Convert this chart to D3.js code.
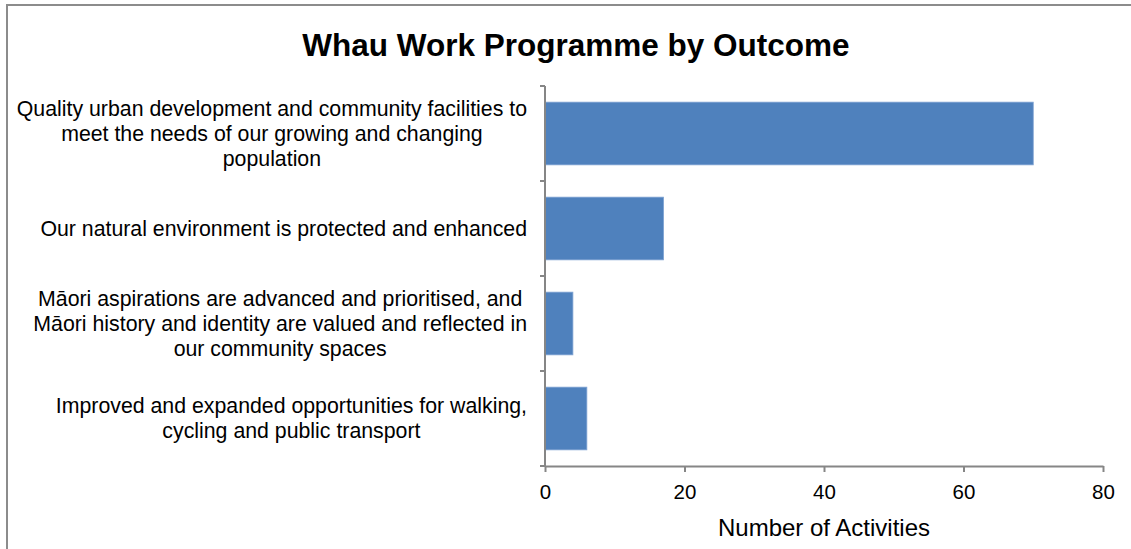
<!DOCTYPE html>
<html><head><meta charset="utf-8">
<script src="https://cdn.jsdelivr.net/npm/d3@7"></script>
<style>
html,body{margin:0;padding:0;background:#fff;}
svg{display:block;font-family:"Liberation Sans",Arial,sans-serif;}
</style></head>
<body>
<svg id="chart" width="1131" height="549"></svg>
<script>
const title = "Whau Work Programme by Outcome";
const categories = [
  "Quality urban development and community facilities to\nmeet the needs of our growing and changing\npopulation",
  "Our natural environment is protected and enhanced",
  "Māori aspirations are advanced and prioritised, and\nMāori history and identity are valued and reflected in\nour community spaces",
  "Improved and expanded opportunities for walking,\ncycling and public transport"
];
const values = [70, 17, 4, 6];
const xTicks = [0, 20, 40, 60, 80];
const xTitle = "Number of Activities";

const svg = d3.select("#chart");
const W = 1131, H = 549;
const m = {left: 545, right: 1103, top: 86, bottom: 466};

// chart border
svg.append("path")
  .attr("d", `M7,${H+2} V5 H${W+2}`)
  .attr("fill", "none").attr("stroke", "#8c8c8c").attr("stroke-width", 2);

svg.append("text")
  .attr("x", 576).attr("y", 56)
  .attr("text-anchor", "middle")
  .attr("font-size", 31.5).attr("font-weight", "bold").attr("fill", "#000")
  .text(title);

const x = d3.scaleLinear().domain([0, 80]).range([m.left, m.right]);
const y = d3.scaleBand().domain(d3.range(categories.length)).range([m.top, m.bottom]).paddingInner(0.34).paddingOuter(0.17);

svg.append("g").selectAll("rect").data(values).join("rect")
  .attr("x", x(0)).attr("y", (d,i) => y(i))
  .attr("width", d => x(d) - x(0)).attr("height", y.bandwidth())
  .attr("fill", "#4f81bd").attr("stroke", "#7fa3d3").attr("stroke-width", 0.8);

// y axis line and ticks
const yAxisG = svg.append("g");
yAxisG.append("line").attr("x1", m.left).attr("x2", m.left).attr("y1", m.top).attr("y2", m.bottom)
  .attr("stroke", "#868686").attr("stroke-width", 2);
const bandStep = (m.bottom - m.top) / categories.length;
yAxisG.selectAll("line.t").data(d3.range(categories.length + 1)).join("line")
  .attr("class", "t")
  .attr("x1", m.left - 5).attr("x2", m.left)
  .attr("y1", i => m.top + i * bandStep).attr("y2", i => m.top + i * bandStep)
  .attr("stroke", "#868686").attr("stroke-width", 2);

// x axis
const xAxis = d3.axisBottom(x).tickValues(xTicks).tickSize(6).tickSizeOuter(0).tickPadding(12);
const xg = svg.append("g").attr("transform", `translate(0,${m.bottom})`).call(xAxis);
xg.select(".domain").attr("stroke", "#868686").attr("stroke-width", 2);
xg.selectAll(".tick line").attr("stroke", "#868686").attr("stroke-width", 2);
xg.selectAll(".tick text").attr("font-size", 20.5).attr("fill", "#000")
  .attr("font-family", "Liberation Sans, Arial, sans-serif");

svg.append("text").attr("x", 824).attr("y", 536).attr("text-anchor", "middle")
  .attr("font-size", 24).attr("fill", "#000").text(xTitle);

// category labels
const lineH = 25;
const labelRight = 527;
categories.forEach((c, i) => {
  const lines = c.split("\n");
  const cy = y(i) + y.bandwidth() / 2;
  const g = svg.append("g");
  const t = g.append("text").attr("font-size", 21.3).attr("fill", "#000").attr("text-anchor", "middle");
  const spans = lines.map((l, k) => t.append("tspan")
    .attr("x", 0)
    .attr("y", cy + (k - (lines.length - 1) / 2) * lineH + 7)
    .text(l));
  const maxW = d3.max(spans, s => s.node().getComputedTextLength());
  g.attr("transform", `translate(${labelRight - maxW / 2},0)`);
});
</script>
</body></html>
